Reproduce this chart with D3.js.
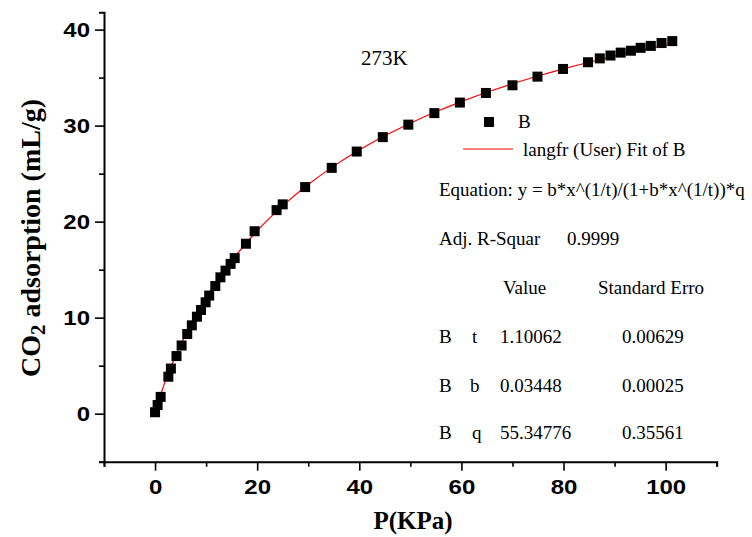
<!DOCTYPE html>
<html>
<head>
<meta charset="utf-8">
<script src="https://cdn.jsdelivr.net/npm/d3@7"></script>
<style>
  body { margin: 0; background: #fff; }
  svg { display: block; }
  .serif { font-family: "Liberation Serif", "Times New Roman", serif; fill: #000; }
</style>
</head>
<body>
<div id="vis"></div>
<script>
const FRAME_WIDTH = 752;
const FRAME_HEIGHT = 537;

// measured points (P in KPa, CO2 uptake in mL/g)
const pressure = [0, 0.5, 1.1, 2.6, 3.1, 4.2, 5.2, 6.3, 7.2, 8.2, 9.0, 9.9, 10.6, 11.8, 12.8, 13.8,
  14.8, 15.6, 17.8, 19.5, 23.8, 25.0, 29.4, 34.6, 39.5, 44.6, 49.6, 54.7, 59.7, 64.8, 70.0, 74.9,
  79.9, 84.8, 87.1, 89.2, 91.2, 93.2, 95.1, 97.1, 99.2, 101.3];
const adsorption = [0.15, 0.9, 1.75, 3.85, 4.7, 6.0, 7.1, 8.3, 9.2, 10.1, 10.8, 11.6, 12.3, 13.3, 14.2, 14.9,
  15.6, 16.2, 17.7, 19.0, 21.2, 21.8, 23.6, 25.6, 27.3, 28.8, 30.1, 31.3, 32.4, 33.4, 34.2, 35.1,
  35.9, 36.6, 37.0, 37.3, 37.6, 37.8, 38.1, 38.3, 38.6, 38.8];

// fitted curve (langfr), sampled
const fitP = [0, 0.2, 0.5, 1, 2, 3, 5, 7.5, 10, 15, 20, 25, 30, 35, 40, 45, 50, 55, 60, 65, 70, 75, 80, 85, 90, 95, 100, 101];
const fitY = [0, 0.439, 0.998, 1.845, 3.365, 4.735, 7.170, 9.798, 12.085, 15.919, 19.052, 21.645, 23.864, 25.781,
  27.457, 28.936, 30.254, 31.436, 32.503, 33.472, 34.356, 35.167, 35.913, 36.601, 37.240, 37.833, 38.386, 38.492];

const xTicks = [0, 20, 40, 60, 80, 100];
const yTicks = [0, 10, 20, 30, 40];

const paramNames = ['t', 'b', 'q'];
const paramValues = ['1.10062', '0.03448', '55.34776'];
const paramErrors = ['0.00629', '0.00025', '0.35561'];

const X_SCALE = d3.scaleLinear().domain([-10, 110]).range([104, 716.7]);
const Y_SCALE = d3.scaleLinear().domain([-5, 41.8]).range([461.7, 12.3]);

const svg = d3.select('#vis').append('svg')
  .attr('width', FRAME_WIDTH)
  .attr('height', FRAME_HEIGHT);

// axes
const xAxis = svg.append('g')
  .attr('transform', 'translate(0,' + Y_SCALE(-5) + ')')
  .call(d3.axisBottom(X_SCALE).tickValues(d3.range(-10, 111, 10)).tickSize(5).tickFormat(''));
xAxis.selectAll('.tick')
  .filter(d => xTicks.includes(d))
  .select('line').attr('y2', 9);
xAxis.selectAll('.tick')
  .filter(d => xTicks.includes(d))
  .append('text')
    .attr('transform', 'translate(0,32) scale(1.2,1)')
    .attr('text-anchor', 'middle')
    .text(d => d);

const yAxis = svg.append('g')
  .attr('transform', 'translate(' + X_SCALE(-10) + ',0)')
  .call(d3.axisLeft(Y_SCALE).tickValues(d3.range(-5, 41, 5)).tickSize(5).tickFormat(''));
yAxis.selectAll('.tick')
  .filter(d => yTicks.includes(d))
  .select('line').attr('x2', -9);
yAxis.selectAll('.tick')
  .filter(d => yTicks.includes(d))
  .append('text')
    .attr('transform', 'translate(-14,7) scale(1.2,1)')
    .attr('text-anchor', 'end')
    .text(d => d);

[xAxis, yAxis].forEach(g => {
  g.select('.domain').attr('stroke', '#000').attr('stroke-width', 2);
  g.selectAll('.tick line').attr('stroke', '#000').attr('stroke-width', 1.6);
  g.selectAll('.tick text')
    .attr('fill', '#000')
    .attr('font-family', '"Liberation Sans", Arial, sans-serif')
    .attr('font-weight', 'bold')
    .attr('font-size', '20px');
});

// axis titles
svg.append('text')
  .attr('class', 'serif')
  .attr('x', 413)
  .attr('y', 529)
  .attr('text-anchor', 'middle')
  .attr('font-weight', 'bold')
  .attr('font-size', '25px')
  .text('P(KPa)');

const yTitle = svg.append('text')
  .attr('class', 'serif')
  .attr('transform', 'translate(40,238) rotate(-90)')
  .attr('text-anchor', 'middle')
  .attr('font-weight', 'bold')
  .attr('font-size', '28px');
yTitle.append('tspan').text('CO');
yTitle.append('tspan').attr('font-size', '21px').attr('dy', 5).text('2');
yTitle.append('tspan').attr('dy', -5).text(' adsorption (mL/g)');

// fit line
svg.append('path')
  .datum(fitP.map((p, i) => [p, fitY[i]]))
  .attr('fill', 'none')
  .attr('stroke', '#ff0000')
  .attr('stroke-width', 1.2)
  .attr('d', d3.line()
    .x(d => X_SCALE(d[0]))
    .y(d => Y_SCALE(d[1]))
    .curve(d3.curveMonotoneX));

// data points
const MARK = 10;
svg.selectAll('.pt')
  .data(pressure)
  .enter()
  .append('rect')
    .attr('class', 'pt')
    .attr('x', d => X_SCALE(d) - MARK / 2)
    .attr('y', (d, i) => Y_SCALE(adsorption[i]) - MARK / 2)
    .attr('width', MARK)
    .attr('height', MARK)
    .attr('fill', '#000');

// temperature label
svg.append('text').attr('class', 'serif')
  .attr('x', 361).attr('y', 65)
  .attr('font-size', '21px')
  .text('273K');

// legend
svg.append('rect')
  .attr('x', 489 - MARK / 2).attr('y', 122 - MARK / 2)
  .attr('width', MARK).attr('height', MARK)
  .attr('fill', '#000');
svg.append('text').attr('class', 'serif')
  .attr('x', 518).attr('y', 128).attr('font-size', '19px')
  .text('B');
svg.append('line')
  .attr('x1', 463).attr('x2', 513).attr('y1', 149).attr('y2', 149)
  .attr('stroke', '#ff0000').attr('stroke-width', 1.2);
svg.append('text').attr('class', 'serif')
  .attr('x', 523).attr('y', 156).attr('font-size', '19px')
  .text('langfr (User) Fit of B');

// fit report
const note = (x, y, s) => svg.append('text').attr('class', 'serif')
  .attr('x', x).attr('y', y).attr('font-size', '19px').text(s);

note(439, 196, 'Equation: y = b*x^(1/t)/(1+b*x^(1/t))*q');
note(439, 245, 'Adj. R-Squar');
note(567, 245, '0.9999');
note(503, 294, 'Value');
note(598, 294, 'Standard Erro');

const rowY = [343, 392, 439];
paramNames.forEach((n, i) => {
  note(439, rowY[i], 'B');
  note(n === 'b' ? 470 : 472, rowY[i], n);
  note(500, rowY[i], paramValues[i]);
  note(622, rowY[i], paramErrors[i]);
});
</script>
</body>
</html>
